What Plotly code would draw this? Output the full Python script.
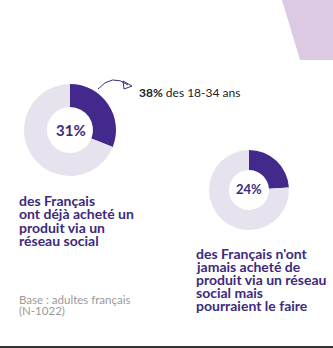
import plotly.graph_objects as go

W, H = 333, 348

# Data
pct_bought = [31, 69]          # ont déjà acheté / autres
pct_could = [24, 76]           # n'ont jamais acheté mais pourraient / autres
pct_young = 38
labels_a = ["ont déjà acheté", "autres"]
labels_b = ["pourraient le faire", "autres"]

DARK = "#44298d"
LIGHT = "#e6e3ee"
TXT = "#3e2a7c"
FONT = "Lato"

fig = go.Figure()

def dom(cx, cy, r):
    return dict(x=[(cx - r) / W, (cx + r) / W], y=[1 - (cy + r) / H, 1 - (cy - r) / H])

fig.add_trace(go.Pie(values=pct_bought, labels=labels_a, hole=0.5, sort=False,
                     direction="clockwise", rotation=0, textinfo="none",
                     marker=dict(colors=[DARK, LIGHT], line=dict(width=0)),
                     domain=dom(70, 130, 46), showlegend=False, hoverinfo="skip"))
fig.add_trace(go.Pie(values=pct_could, labels=labels_b, hole=0.5, sort=False,
                     direction="clockwise", rotation=0, textinfo="none",
                     marker=dict(colors=[DARK, LIGHT], line=dict(width=0)),
                     domain=dom(249, 190, 40), showlegend=False, hoverinfo="skip"))

fig.update_xaxes(range=[0, W], visible=False, fixedrange=True)
fig.update_yaxes(range=[H, 0], visible=False, fixedrange=True)

shapes = [
    dict(type="path", path="M 282 0 L 333 0 L 333 60 L 300 60 Z",
         fillcolor="#dccae2", line=dict(width=0), layer="below"),
    dict(type="rect", x0=0, x1=W, y0=346, y1=348, fillcolor="#333333",
         line=dict(width=0)),
    dict(type="path", path="M 98 89 Q 112 73 128 85", line=dict(color=TXT, width=1)),
    dict(type="path", path="M 123 81 L 132 86 L 124 89 Z", line=dict(color=TXT, width=1),
         fillcolor="rgba(0,0,0,0)"),
]

ann = []
def t(x, y, text, size, color, xanchor="left"):
    ann.append(dict(x=x, y=y, xref="x", yref="y", text=text, showarrow=False,
                    xanchor=xanchor, yanchor="middle",
                    font=dict(family=FONT, size=size, color=color)))

t(71, 130, "<b>%d%%</b>" % pct_bought[0], 15, TXT, "center")
t(249, 189, "<b>%d%%</b>" % pct_could[0], 13, TXT, "center")
t(137, 92, "<b>%d%%</b> des 18-34 ans" % pct_young, 12, "#222222")

lines1 = ["des Français", "ont déjà acheté un", "produit via un", "réseau social"]
for i, s in enumerate(lines1):
    t(17, 200 + i * 13.5, "<b>%s</b>" % s, 14, TXT)

lines2 = ["des Français n'ont", "jamais acheté de", "produit via un réseau",
          "social mais", "pourraient le faire"]
for i, s in enumerate(lines2):
    t(194, 253 + i * 13, "<b>%s</b>" % s, 14, TXT)

t(17, 299, "Base : adultes français", 11.5, "#9a9a9a")
t(17, 310, "(N-1022)", 11.5, "#9a9a9a")

fig.update_layout(width=W, height=H, margin=dict(l=0, r=0, t=0, b=0),
                  paper_bgcolor="white", plot_bgcolor="white",
                  shapes=shapes, annotations=ann)

fig.write_html("out.html", config={"displayModeBar": False})
